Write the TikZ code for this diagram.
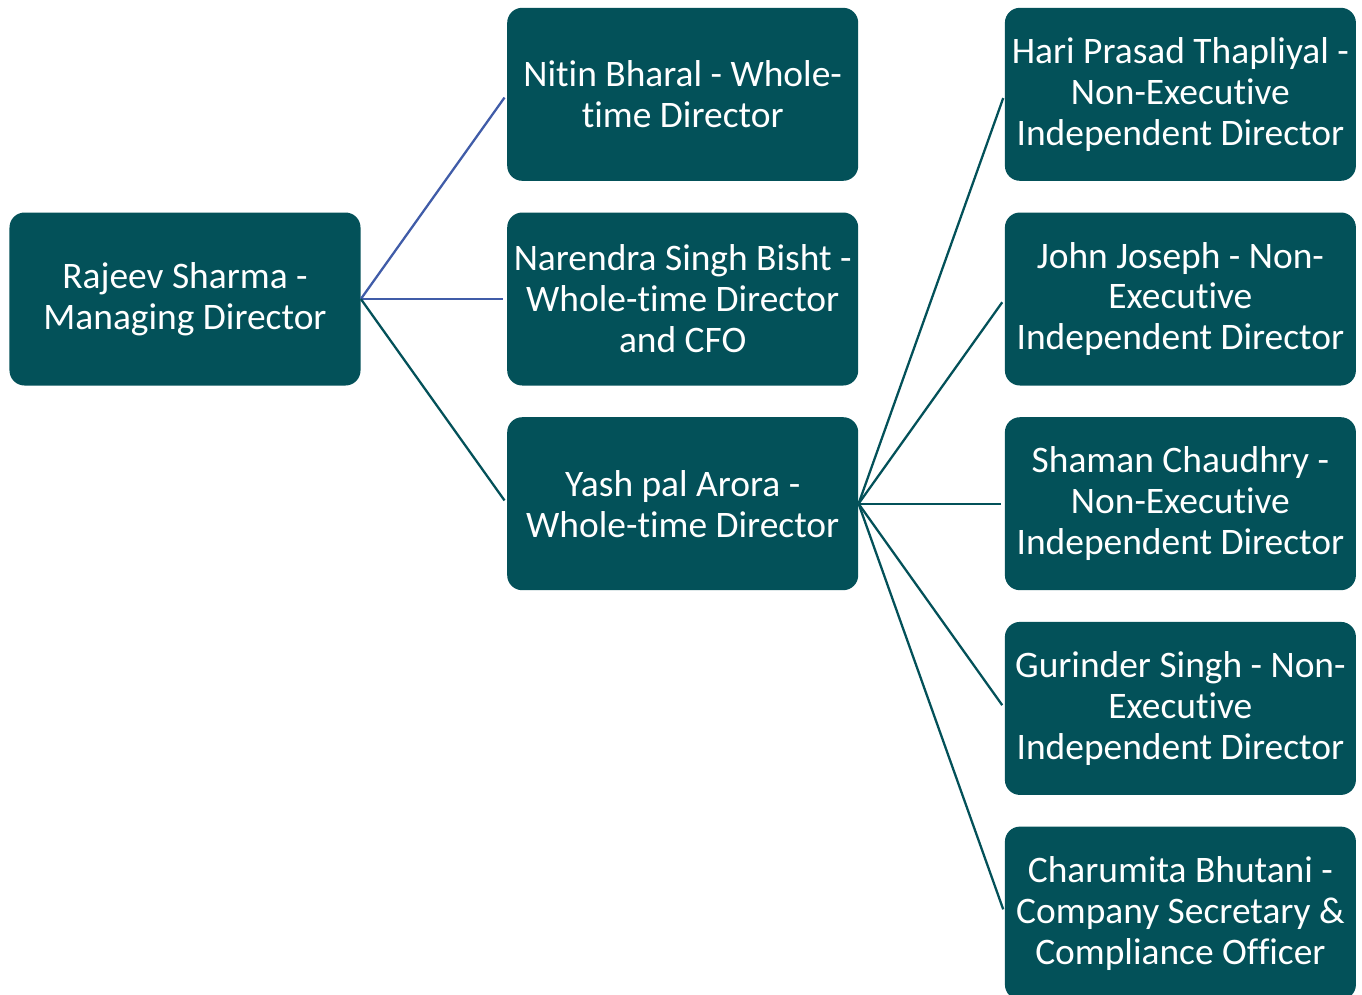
\documentclass[tikz,border=0pt]{standalone}
\usepackage{fontspec}
\setmainfont{Carlito}[Ligatures=NoCommon]
\usepackage{xcolor}
\usepackage{tikz}
\usetikzlibrary{positioning}

\definecolor{boxteal}{RGB}{3,81,89}
\definecolor{linkblue}{RGB}{64,92,168}

\begin{document}
\begin{tikzpicture}[node distance=0.62cm and 2.92cm,
   person/.style={fill=boxteal, rounded corners=0.3cm, text=white, align=center,
      minimum width=7.02cm, minimum height=3.46cm, inner sep=0pt,
      font=\fontsize{21.3}{23.3}\selectfont},
   link/.style={line width=1.3pt, draw=boxteal, shorten >=0.08cm},
   bluelink/.style={link, draw=linkblue}]
   \useasboundingbox (0,0) rectangle (27.24,-19.88);

   \node[person] (md) at (3.70,-5.98) {Rajeev Sharma -\\Managing Director};
   \node[person] (cfo) [right=of md] {Narendra Singh Bisht -\\Whole-time Director\\and CFO};
   \node[person] (wtd1) [above=of cfo] {Nitin Bharal - Whole-\\time Director};
   \node[person] (wtd2) [below=of cfo] {Yash pal Arora -\\Whole-time Director};

   \node[person] (ind1) [right=of wtd1] {Hari Prasad Thapliyal -\\Non-Executive\\Independent Director};
   \node[person] (ind2) [below=of ind1] {John Joseph - Non-\\Executive\\Independent Director};
   \node[person] (ind3) [below=of ind2] {Shaman Chaudhry -\\Non-Executive\\Independent Director};
   \node[person] (ind4) [below=of ind3] {Gurinder Singh - Non-\\Executive\\Independent Director};
   \node[person] (cs) [below=of ind4] {Charumita Bhutani -\\Company Secretary \&\\Compliance Officer};

   \draw[bluelink] (md.east) -- (wtd1.west);
   \draw[bluelink] (md.east) -- (cfo.west);
   \draw[link] (md.east) -- (wtd2.west);

   \draw[link] (wtd2.east) -- (ind1.west);
   \draw[link] (wtd2.east) -- (ind2.west);
   \draw[link] (wtd2.east) -- (ind3.west);
   \draw[link] (wtd2.east) -- (ind4.west);
   \draw[link] (wtd2.east) -- (cs.west);
\end{tikzpicture}
\end{document}
